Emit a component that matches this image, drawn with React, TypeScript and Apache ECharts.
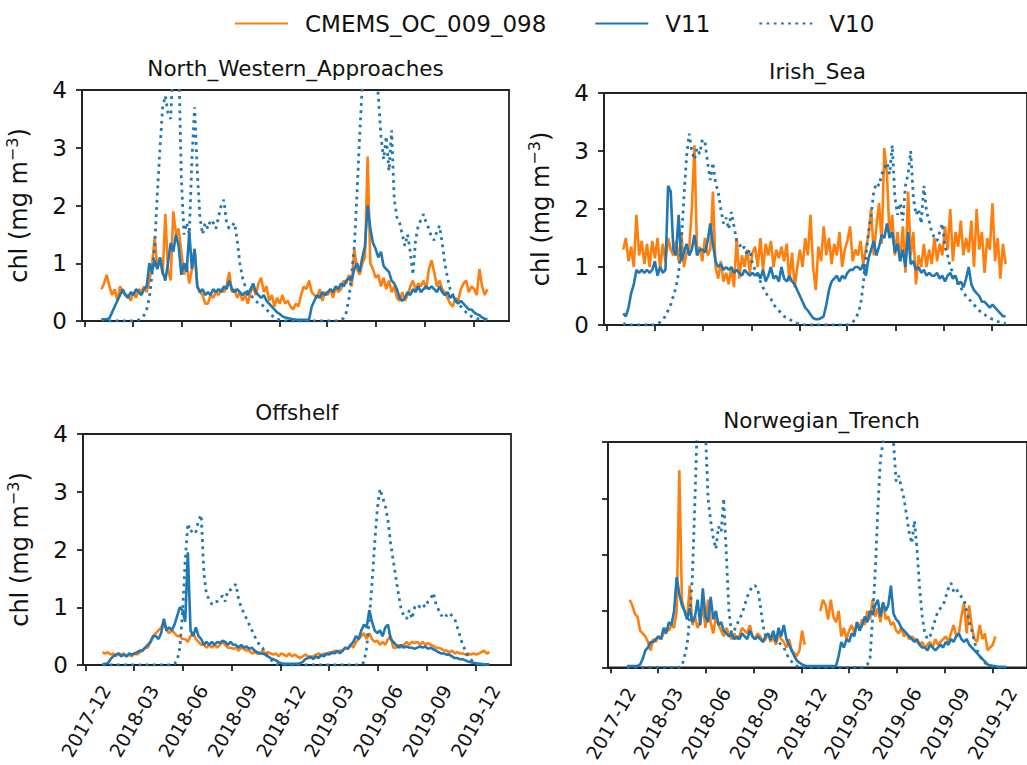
import React, { useEffect, useRef } from "react";
import * as echarts from "echarts";

// ---------------- data ----------------
const seriesNames = ["CMEMS_OC_009_098", "V11", "V10"];
const panelTitles = ["North_Western_Approaches", "Irish_Sea", "Offshelf", "Norwegian_Trench"];
const tickLabels = ["2017-12", "2018-03", "2018-06", "2018-09", "2018-12", "2019-03", "2019-06", "2019-09", "2019-12"];
const yTicks = [0, 1, 2, 3, 4];
const yName = "chl (mg m{sup|\u22123})";

// samples every 5 days starting 2018-01-01
const startDate = "2018-01-01";
const stepDays = 5;

const nwaCmems = [
  0.55, 0.65, 0.8, 0.6, 0.45, 0.55, 0.35, 0.6, 0.5, 0.45,
  0.45, 0.35, 0.5, 0.4, 0.55, 0.5, 0.6, 0.5, 0.7, 0.95,
  1.45, 0.9, 1.1, 0.8, 1.85, 0.9, 0.7, 1.9, 1.5, 1.6,
  1.2, 0.8, 1.0, 0.65, 0.9, 1.25, 0.6, 0.5, 0.45, 0.3,
  0.3, 0.45, 0.4, 0.5, 0.45, 0.55, 0.5, 0.6, 0.85, 0.5,
  0.55, 0.4, 0.5, 0.35, 0.45, 0.3, 0.5, 0.6, 0.45, 0.65,
  0.75, 0.5, 0.6, 0.35, 0.45, 0.25, 0.4, 0.3, 0.45, 0.3,
  0.35, 0.25, 0.2, 0.3, 0.25, 0.45, 0.6, 0.55, 0.7, 0.5,
  0.45, 0.4, 0.55, 0.35, 0.5, 0.45, 0.55, 0.4, 0.6, 0.5,
  0.55, 0.7, 0.65, 0.8, 0.6, 1.25, 0.9, 0.8, 1.0, 1.1,
  2.85, 1.0, 0.9, 0.75, 0.8, 0.6, 0.75, 0.55, 0.7, 0.5,
  0.6, 0.4, 0.35, 0.5, 0.35, 0.45, 0.6, 0.7, 0.55, 0.65,
  0.6, 0.7, 0.55, 0.9, 1.05, 0.85, 0.6, 0.7, 0.55, 0.5,
  0.4, 0.3, 0.25, 0.4, 0.35, 0.55, 0.65, 0.7, 0.5, 0.6,
  0.55, 0.45, 0.9, 0.6, 0.45, 0.55,
];
const nwaV11 = [
  0.02, 0.03, 0.03, 0.05, 0.15, 0.25, 0.35, 0.45, 0.55, 0.45,
  0.4, 0.5, 0.45, 0.55, 0.5, 0.45, 0.55, 0.6, 1.0, 0.85,
  1.05, 0.9, 1.1, 0.85, 0.7, 1.0, 1.35, 1.2, 1.5, 1.3,
  0.8, 1.0, 0.85, 1.55, 0.9, 1.25, 0.6, 0.5, 0.55, 0.45,
  0.5, 0.45, 0.55, 0.5, 0.55, 0.5, 0.6, 0.55, 0.7, 0.55,
  0.5, 0.55, 0.5, 0.45, 0.5, 0.45, 0.55, 0.65, 0.5, 0.45,
  0.4, 0.45, 0.35, 0.3, 0.25, 0.2, 0.15, 0.12, 0.08, 0.06,
  0.05, 0.04, 0.03, 0.02, 0.02, 0.02, 0.02, 0.02, 0.02, 0.25,
  0.35, 0.45, 0.4, 0.5, 0.45, 0.5, 0.55, 0.5, 0.6, 0.55,
  0.65, 0.6, 0.7, 0.75, 0.7, 0.9, 1.0, 0.85, 1.1, 1.3,
  2.0, 1.6, 1.35, 1.25, 1.1, 1.2, 0.95, 0.9, 0.85, 0.7,
  0.65, 0.55, 0.4, 0.35, 0.4, 0.5, 0.45, 0.55, 0.5, 0.6,
  0.5, 0.55, 0.6, 0.55, 0.6, 0.55, 0.5, 0.6, 0.5, 0.45,
  0.5, 0.4, 0.45, 0.35, 0.3, 0.35, 0.3, 0.25, 0.2, 0.2,
  0.15, 0.12, 0.1, 0.06, 0.04, 0.03,
];
const nwaV10 = [
  0.02, 0.02, 0.01, 0, 0, 0, 0, 0, 0, 0,
  0, 0, 0, 0.01, 0.02, 0.05, 0.1, 0.2, 0.4, 0.8,
  1.3, 2.2, 3.0, 3.7, 3.9, 3.6, 3.5, 4.5, 4.8, 4.6,
  2.5, 1.5, 1.7, 1.5, 2.8, 3.7, 2.6, 1.8, 1.5, 1.7,
  1.6, 1.75, 1.7, 1.6, 1.8, 2.0, 2.1, 1.7, 1.6, 1.65,
  1.7, 1.4, 1.0, 0.75, 0.6, 0.5, 0.45, 0.4, 0.35, 0.3,
  0.3, 0.25, 0.2, 0.15, 0.1, 0.05, 0.03, 0.02, 0.01, 0,
  0, 0, 0, 0, 0, 0, 0, 0, 0, 0,
  0, 0, 0, 0, 0, 0, 0, 0, 0, 0.01,
  0.02, 0.05, 0.15, 0.4, 0.8, 1.3, 2.2, 3.2, 4.1, 4.8,
  5.0, 5.0, 4.8, 4.5, 3.9, 3.2, 2.8, 3.2, 2.6, 3.3,
  2.1, 1.8, 1.7, 1.5, 1.3, 1.5, 1.2, 0.8, 1.4, 1.65,
  1.75, 1.85, 1.7, 1.6, 1.45, 1.4, 1.55, 1.65, 1.35, 1.0,
  0.75, 0.55, 0.45, 0.4, 0.3, 0.25, 0.2, 0.15, 0.1, 0.08,
  0.05, 0.04, 0.03, 0.02, 0.02, 0.02,
];

const irishCmems = [
  1.3, 1.5, 1.1, 1.35, 1.0, 1.9, 1.2, 1.45, 1.05, 1.4,
  1.0, 1.45, 1.15, 1.5, 0.95, 1.4, 1.1, 1.5, 1.3, 1.2,
  1.45, 1.1, 1.6, 1.0, 1.25, 1.3, 2.0, 3.1, 1.2, 1.35,
  1.1, 1.5, 1.2, 1.3, 2.3, 1.0, 0.8, 1.1, 0.75, 0.9,
  0.7, 1.0, 0.65, 1.5, 0.8, 1.2, 1.0, 1.3, 0.9, 1.25,
  1.35, 1.0, 1.5, 0.95, 1.4, 1.2, 1.45, 1.0, 1.3, 1.15,
  1.35, 1.1, 1.4, 0.75, 1.25, 0.65, 1.0, 1.3, 1.0, 1.5,
  1.2, 1.9, 1.0, 0.6, 1.35, 1.1, 1.7, 1.2, 1.5, 1.05,
  1.4, 1.2, 1.6, 1.0, 1.3, 1.45, 1.7, 1.1, 1.3, 1.2,
  1.45, 1.05, 1.3, 1.55, 2.0, 1.2, 1.7, 2.1, 1.4, 3.05,
  2.6, 1.5, 1.9, 1.2, 1.6, 1.1, 1.7, 0.9, 2.3, 1.2,
  1.6, 0.7, 1.2, 1.0, 1.4, 1.0, 1.3, 1.05, 1.5, 1.1,
  1.4, 1.2, 1.7, 1.3, 2.0, 1.1, 1.6, 1.35, 1.8, 1.2,
  1.5, 1.25, 1.8, 1.0, 2.0, 1.3, 1.6, 0.9, 1.5, 1.3,
  2.1, 1.1, 1.5, 0.8, 1.4, 1.05,
];
const irishV11 = [
  0.2, 0.15, 0.3, 0.55, 0.7, 0.95, 0.9, 0.95, 0.9, 0.95,
  0.9, 0.95, 1.1, 0.85, 1.0, 0.9, 0.95, 2.4, 2.3, 1.3,
  1.2, 1.9, 1.1, 1.25, 1.4, 1.2, 1.3, 1.55, 1.2, 1.3,
  1.3, 1.25, 1.45, 1.75, 1.4, 1.1, 1.0, 1.05, 0.95, 1.0,
  0.95, 1.0, 0.9, 0.95, 0.9, 0.85, 0.95, 0.9, 0.85, 0.9,
  0.85, 0.9, 0.8, 0.95, 0.75, 0.85, 1.0, 0.8, 0.85, 0.75,
  1.0, 0.8, 0.75, 0.85, 0.75, 0.7, 0.6, 0.5, 0.4, 0.3,
  0.25, 0.18, 0.12, 0.1, 0.1, 0.12, 0.15, 0.35, 0.6, 0.75,
  0.8, 0.85, 0.75, 0.85, 0.8, 0.9, 0.95, 0.95, 1.0, 1.0,
  0.95, 1.05, 0.85, 1.15, 1.3, 1.45, 1.2, 1.35, 1.55, 1.5,
  1.75, 1.5, 1.6, 1.25, 1.4, 1.1, 1.3, 1.0, 1.6, 1.05,
  1.1, 0.95, 1.0, 0.9, 0.95, 0.85, 0.9, 0.85, 0.85, 0.9,
  0.8, 0.85, 0.75, 0.85, 0.9, 0.8, 0.85, 0.7, 0.75, 0.65,
  0.8, 1.0, 0.7, 0.6, 0.55, 0.5, 0.4, 0.4, 0.35, 0.3,
  0.35, 0.3, 0.25, 0.2, 0.15, 0.15,
];
const irishV10 = [
  0.03, 0, 0, 0, 0, 0, 0, 0, 0, 0,
  0, 0, 0, 0.02, 0.05, 0.1, 0.15, 0.25, 0.35, 0.5,
  0.65, 0.9, 1.4, 2.2, 2.9, 3.3, 3.0, 2.85, 3.05, 2.95,
  3.2, 3.15, 2.8, 2.5, 2.8, 2.45, 2.3, 2.0, 1.75, 1.85,
  1.65, 1.95, 1.7, 1.45, 1.4, 1.3, 1.35, 1.2, 1.3, 1.05,
  0.95, 0.85, 0.75, 0.65, 0.55, 0.5, 0.45, 0.35, 0.3, 0.25,
  0.2, 0.15, 0.12, 0.1, 0.07, 0.05, 0.03, 0.02, 0.01, 0,
  0, 0, 0, 0, 0, 0, 0, 0, 0, 0,
  0, 0, 0, 0, 0, 0, 0.02, 0.05, 0.1, 0.2,
  0.35, 0.7, 1.2, 1.6, 1.9, 2.3, 2.45, 2.4, 2.6, 2.7,
  2.8, 2.6, 3.1, 2.2, 1.9, 2.1, 1.8, 2.4, 2.6, 3.0,
  2.2, 1.9, 2.0, 1.75, 2.4, 1.95, 1.8, 1.6, 1.5, 1.45,
  1.6, 1.75, 1.35, 1.2, 1.0, 0.9, 0.8, 0.7, 0.65, 0.55,
  0.5, 0.45, 0.4, 0.35, 0.3, 0.25, 0.2, 0.18, 0.15, 0.12,
  0.1, 0.08, 0.06, 0.05, 0.04, 0.03,
];

const offCmems = [
  0.22, 0.2, 0.22, 0.18, 0.2, 0.15, 0.2, 0.18, 0.2, 0.15,
  0.18, 0.15, 0.2, 0.18, 0.22, 0.25, 0.3, 0.3, 0.4, 0.5,
  0.55, 0.6, 0.65, 0.75, 0.6, 0.55, 0.6, 0.55, 0.5, 0.5,
  0.45, 0.45, 0.4, 0.5, 0.55, 0.45, 0.4, 0.35, 0.35, 0.3,
  0.35, 0.3, 0.35, 0.3, 0.35, 0.4, 0.35, 0.3, 0.3, 0.28,
  0.3, 0.25, 0.3, 0.28, 0.25, 0.25, 0.2, 0.22, 0.2, 0.2,
  0.25, 0.2, 0.22, 0.2, 0.18, 0.2, 0.15, 0.2, 0.18, 0.15,
  0.2, 0.15, 0.18, 0.15, 0.12, 0.15, 0.18, 0.15, 0.12, 0.15,
  0.18, 0.2, 0.15, 0.2, 0.18, 0.22, 0.2, 0.25, 0.22, 0.25,
  0.25, 0.3, 0.28, 0.35, 0.3, 0.4, 0.45, 0.5, 0.55, 0.45,
  0.55, 0.45, 0.4, 0.42, 0.35, 0.4, 0.35, 0.45, 0.5, 0.3,
  0.3, 0.35, 0.3, 0.35, 0.4, 0.35, 0.4, 0.38, 0.4, 0.35,
  0.4, 0.35, 0.38, 0.35, 0.33, 0.3, 0.3, 0.28, 0.25, 0.25,
  0.22, 0.25, 0.2, 0.22, 0.2, 0.2, 0.18, 0.2, 0.18, 0.2,
  0.18, 0.2, 0.22, 0.25, 0.2, 0.22,
];
const offV11 = [
  0.01, 0.02, 0.03, 0.1, 0.15, 0.18, 0.2, 0.15, 0.18, 0.15,
  0.2, 0.18, 0.2, 0.22, 0.25, 0.25, 0.3, 0.35, 0.4, 0.5,
  0.5, 0.45, 0.55, 0.8, 0.6, 0.65, 0.6, 0.7, 0.85, 1.0,
  0.95, 0.75, 1.95, 0.6, 0.5, 0.65, 0.5, 0.45, 0.35, 0.4,
  0.35, 0.4, 0.35, 0.4, 0.38, 0.42, 0.4, 0.35, 0.4, 0.35,
  0.35, 0.3, 0.35, 0.3, 0.32, 0.28, 0.3, 0.25, 0.22, 0.2,
  0.2, 0.18, 0.15, 0.12, 0.1, 0.08, 0.05, 0.03, 0.02, 0.02,
  0.02, 0.02, 0.02, 0.02, 0.03, 0.05, 0.1, 0.12, 0.15, 0.1,
  0.15, 0.12, 0.18, 0.15, 0.2, 0.18, 0.22, 0.2, 0.25, 0.2,
  0.25, 0.3, 0.28, 0.35, 0.4, 0.5, 0.45, 0.6, 0.7, 0.65,
  0.95, 0.75, 0.6, 0.55, 0.6, 0.5, 0.65, 0.7, 0.45, 0.4,
  0.35, 0.3, 0.35, 0.3, 0.32, 0.3, 0.3, 0.28, 0.3, 0.32,
  0.3, 0.32, 0.28, 0.3, 0.27, 0.25, 0.22, 0.2, 0.2, 0.18,
  0.18, 0.15, 0.12, 0.12, 0.1, 0.1, 0.08, 0.06, 0.05, 0.04,
  0.03, 0.02, 0.02, 0.01, 0.01, 0.01,
];
const offV10 = [
  0.01, 0, 0, 0, 0, 0, 0, 0, 0, 0,
  0, 0, 0, 0, 0, 0, 0, 0, 0, 0,
  0, 0, 0, 0, 0, 0, 0, 0.02, 0.08, 0.3,
  0.9, 1.8, 2.45, 2.3, 2.35, 2.3, 2.5, 2.6, 1.6, 1.2,
  1.15, 1.05, 1.1, 1.1, 1.15, 1.2, 1.1, 1.3, 1.3, 1.35,
  1.4, 1.15, 1.0, 0.9, 0.8, 0.7, 0.6, 0.5, 0.4, 0.35,
  0.3, 0.2, 0.15, 0.1, 0.05, 0.02, 0, 0, 0, 0,
  0, 0, 0, 0, 0, 0, 0, 0, 0, 0,
  0, 0, 0, 0, 0, 0, 0, 0, 0, 0,
  0, 0, 0, 0, 0, 0, 0, 0.01, 0.05, 0.3,
  0.8, 1.4, 2.1, 2.7, 3.05, 2.9, 2.75, 2.5, 2.1, 1.8,
  1.5, 1.2, 0.95, 0.85, 0.8, 0.95, 0.8, 1.0, 1.05, 1.0,
  1.05, 1.0, 1.1, 1.15, 1.25, 1.05, 0.95, 0.85, 0.9, 0.85,
  0.9, 0.85, 0.8, 0.65, 0.5, 0.35, 0.25, 0.15, 0.1, 0.05,
  0.02, 0.01, 0, 0, 0, 0,
];

const norCmems = [
  null, 1.2, 1.1, 0.95, 0.9, 0.65, 0.6, 0.55, 0.45, 0.3,
  0.5, 0.45, 0.55, 0.5, 0.6, 0.7, 0.65, 0.75, 0.7, 1.0,
  3.5, 1.2, 1.0, 0.85, 1.45, 0.75, 0.9, 0.7, 0.8, 1.1,
  0.7, 1.2, 0.8, 0.6, 0.9, 0.75, 0.65, 0.55, 0.7, 0.6,
  0.5, 0.6, 0.5, 0.55, 0.7, 0.65, 0.6, 0.75, 0.55, 0.5,
  0.6, 0.55, 0.45, 0.5, 0.6, 0.45, 0.55, 0.4, 0.6, 0.5,
  0.45, 0.35, 0.5, 0.3, 0.25, 0.2, 0.3, 0.65, 0.4, null,
  null, null, null, null, 1.0, 1.2, 1.1, 0.85, 1.2, 0.9,
  0.8, 1.0, 0.55, 0.7, 0.5, 0.65, 0.75, 0.6, 0.8, 0.7,
  0.85, 0.75, 1.0, 0.85, 1.2, 0.9, 1.05, 0.8, 1.15, 0.85,
  0.9, 0.75, 0.8, 0.65, 0.6, 0.7, 0.55, 0.6, 0.5, 0.55,
  0.5, 0.45, 0.4, 0.45, 0.35, 0.4, 0.45, 0.35, 0.5, 0.4,
  0.45, 0.5, 0.55, 0.45, 0.6, 0.75, 0.55, 0.6, 0.9, 1.15,
  0.6, 1.1, 0.7, 0.5, 0.45, 0.75, 0.5, 0.6, 0.3, 0.35,
  0.4, 0.55, null, null, null, null,
];
const norV11 = [
  0.02, 0.02, 0.02, 0.02, 0.02, 0.05, 0.15, 0.3, 0.35, 0.45,
  0.45, 0.5, 0.55, 0.5, 0.7, 0.6, 0.8, 0.75, 1.0, 1.6,
  1.3, 1.1, 1.0, 0.85, 1.05, 0.8, 0.9, 1.2, 0.75, 1.4,
  0.9, 0.8, 1.25, 0.85, 1.0, 0.75, 0.8, 0.65, 0.6, 0.55,
  0.6, 0.5, 0.55, 0.5, 0.6, 0.55, 0.5, 0.65, 0.55, 0.5,
  0.55, 0.5, 0.45, 0.55, 0.6, 0.5, 0.65, 0.45, 0.7, 0.55,
  0.75, 0.5, 0.4, 0.3, 0.2, 0.12, 0.08, 0.05, 0.03, 0.02,
  0.02, 0.02, 0.02, 0.02, 0.02, 0.02, 0.02, 0.02, 0.02, 0.02,
  0.02, 0.2, 0.45, 0.35, 0.5, 0.45, 0.6, 0.55, 0.8, 0.65,
  0.75, 0.9, 0.8, 1.0, 0.95, 1.1, 1.2, 0.9, 1.15, 1.0,
  1.1, 1.45, 0.95, 0.85, 0.8, 0.7, 0.65, 0.6, 0.55, 0.5,
  0.45, 0.5, 0.4, 0.35, 0.35, 0.3, 0.4, 0.35, 0.3, 0.35,
  0.4, 0.35, 0.45, 0.4, 0.5, 0.45, 0.55, 0.6, 0.5, 0.45,
  0.5, 0.4, 0.35, 0.3, 0.25, 0.2, 0.15, 0.1, 0.05, 0.03,
  0.02, 0.02, 0.01, 0.01, 0.01, 0.01,
];
const norV10 = [
  0, 0, 0, 0, 0, 0, 0, 0, 0, 0,
  0, 0, 0, 0, 0, 0, 0, 0, 0, 0,
  0, 0.02, 0.2, 0.4, 0.9, 1.6, 3.0, 4.5, 5.0, 5.0,
  4.2, 3.0, 2.6, 2.3, 2.1, 2.5, 2.4, 3.0, 2.0, 1.0,
  0.6, 0.65, 0.75, 0.85, 0.95, 1.1, 1.25, 1.35, 1.45, 1.45,
  1.4, 1.1, 0.75, 0.55, 0.5, 0.5, 0.45, 0.5, 0.45, 0.4,
  0.35, 0.25, 0.15, 0.1, 0.05, 0.02, 0, 0, 0, 0,
  0, 0, 0, 0, 0, 0, 0, 0, 0, 0,
  0, 0, 0, 0, 0, 0, 0, 0, 0, 0,
  0, 0.02, 0.05, 0.15, 0.9, 1.7, 2.8, 3.7, 4.0, 4.5,
  5.0, 4.5, 4.0, 3.3, 3.4, 3.2, 3.0, 2.7, 2.4, 2.2,
  2.6, 2.1, 1.4, 0.9, 0.6, 0.5, 0.55, 0.7, 0.85, 1.0,
  1.05, 1.1, 1.25, 1.4, 1.5, 1.35, 1.4, 1.3, 1.25, 1.2,
  1.0, 0.8, 0.65, 0.45, 0.3, 0.2, 0.12, 0.08, 0.05, 0.03,
  0.02, 0.01, 0, 0, 0, 0,
];

// ---------------- layout / style ----------------
const FONT = "DejaVu Sans";
const colors = ["#ff7f0e", "#1f77b4", "#1f77b4"];
const DAY = 86400000;

const panels = [
  { title: panelTitles[0], data: [nwaCmems, nwaV11, nwaV10], grid: { left: 82, top: 90, width: 427, height: 231 }, xLabels: false, yLabels: true, yName: true },
  { title: panelTitles[1], data: [irishCmems, irishV11, irishV10], grid: { left: 604, top: 93, width: 427, height: 232 }, xLabels: false, yLabels: true, yName: true },
  { title: panelTitles[2], data: [offCmems, offV11, offV10], grid: { left: 83, top: 434, width: 428, height: 231 }, xLabels: true, yLabels: true, yName: true },
  { title: panelTitles[3], data: [norCmems, norV11, norV10], grid: { left: 608, top: 442, width: 427, height: 231 }, xLabels: true, yLabels: false, yName: false },
];

const parseDay = (s: string) => {
  const [y, m, d] = s.split("-").map(Number);
  return Date.UTC(y, m - 1, d || 1);
};
const startMs = parseDay(startDate);
const tickValues = tickLabels.map(parseDay);
const xMin = parseDay("2018-01-01") - 36.5 * DAY;
const xMax = parseDay("2019-12-31") + 36.5 * DAY;

const fmtMonth = (v: number) => {
  const d = new Date(v);
  return `${d.getUTCFullYear()}-${String(d.getUTCMonth() + 1).padStart(2, "0")}`;
};

const toPairs = (arr: (number | null)[]) =>
  arr.map((v, i) => [startMs + i * stepDays * DAY, v == null ? "-" : v]);

function buildOption() {
  const axisLineStyle = { color: "#222", width: 1.8 };
  const grid = panels.map((p) => ({
    ...p.grid,
    show: true,
    borderColor: "#222",
    borderWidth: 1.8,
    containLabel: false,
  }));
  const title = panels.map((p) => ({
    text: p.title,
    left: p.grid.left + p.grid.width / 2,
    top: p.grid.top - 33,
    textAlign: "center",
    padding: 0,
    textStyle: { fontFamily: FONT, fontSize: 21.5, fontWeight: "normal", color: "#111" },
  }));
  const xAxis = panels.map((p, i) => ({
    type: "value",
    gridIndex: i,
    min: xMin,
    max: xMax,
    splitLine: { show: false },
    axisLine: { show: true, lineStyle: axisLineStyle },
    axisTick: { show: true, length: 6, lineStyle: axisLineStyle, customValues: tickValues },
    axisLabel: {
      show: p.xLabels,
      customValues: tickValues,
      formatter: (v: number) => fmtMonth(v),
      rotate: 60,
      align: "center",
      verticalAlign: "middle",
      margin: 56,
      fontFamily: FONT,
      fontSize: 19,
      color: "#111",
    },
  }));
  const yAxis = panels.map((p, i) => ({
    type: "value",
    gridIndex: i,
    min: yTicks[0],
    max: yTicks[yTicks.length - 1],
    interval: 1,
    splitLine: { show: false },
    axisLine: { show: true, lineStyle: axisLineStyle },
    axisTick: { show: true, length: 6, lineStyle: axisLineStyle },
    axisLabel: { show: p.yLabels, margin: 15, fontFamily: FONT, fontSize: 23, color: "#111" },
    name: p.yName ? yName : "",
    nameLocation: "middle",
    nameRotate: 90,
    nameGap: 48,
    nameTextStyle: {
      fontFamily: FONT,
      fontSize: 24,
      color: "#111",
      rich: {
        sup: { fontFamily: FONT, fontSize: 16, color: "#111", verticalAlign: "top", lineHeight: 30 },
      },
    },
  }));
  const series: any[] = [];
  panels.forEach((p, i) => {
    p.data.forEach((arr, k) => {
      series.push({
        type: "line",
        name: seriesNames[k],
        xAxisIndex: i,
        yAxisIndex: i,
        data: toPairs(arr),
        symbol: "none",
        showSymbol: false,
        clip: true,
        connectNulls: false,
        z: 2 + k,
        itemStyle: { color: colors[k] },
        lineStyle:
          k === 2
            ? { color: colors[k], width: 2.8, type: [2.8, 4.4] }
            : { color: colors[k], width: 2.6 },
      });
    });
  });
  return {
    animation: false,
    backgroundColor: "#ffffff",
    title,
    legend: {
      data: seriesNames,
      left: 229,
      top: 7,
      itemWidth: 53,
      itemHeight: 14,
      itemGap: 48,
      itemStyle: { opacity: 0 },
      textStyle: { fontFamily: FONT, fontSize: 23, color: "#111", padding: [0, 0, 0, 12] },
    },
    grid,
    xAxis,
    yAxis,
    series,
  };
}

export default function App() {
  const ref = useRef<HTMLDivElement>(null);
  useEffect(() => {
    if (!ref.current) return;
    const chart = echarts.init(ref.current, undefined, { renderer: "svg" });
    chart.setOption(buildOption() as any);
    return () => chart.dispose();
  }, []);
  return (
    <div
      ref={ref}
      style={{ position: "fixed", left: 0, top: 0, width: 1027, height: 765, background: "#fff" }}
    />
  );
}
